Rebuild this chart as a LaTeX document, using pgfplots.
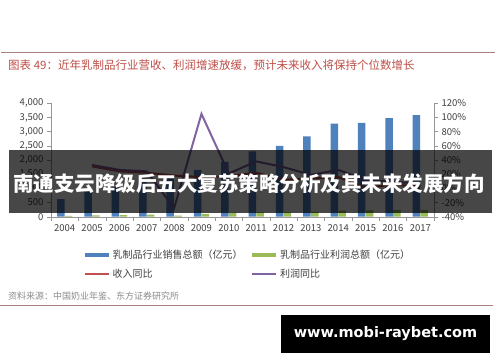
\documentclass[border=0pt]{standalone}
\usepackage{pgfplots}
\pgfplotsset{compat=1.18}
\usepackage{fontspec}
\setmainfont{Noto Sans CJK SC}
\newfontfamily\wmfont{DejaVu Sans}
\definecolor{barblue}{RGB}{79,129,189}
\definecolor{bargreen}{RGB}{155,187,89}
\definecolor{linered}{RGB}{192,80,77}
\definecolor{linepurple}{RGB}{128,100,162}
\definecolor{titlered}{RGB}{190,78,72}
\definecolor{rulecol}{RGB}{170,128,124}
\definecolor{axisgray}{RGB}{150,150,150}
\definecolor{ticktext}{RGB}{64,64,64}
\definecolor{srcgray}{RGB}{140,140,140}
\begin{document}
\begin{tikzpicture}
\useasboundingbox (0pt,0pt) rectangle (500pt,362pt);
\fill[white] (0pt,0pt) rectangle (500pt,362pt);
\draw[rulecol, line width=0.9pt] (1pt,309.3pt) -- (495pt,309.3pt);
\node[anchor=west, inner sep=0pt, font=\fontsize{11.5}{13}\selectfont, text=titlered] at (8pt,297pt) {图表 49：近年乳制品行业营收、利润增速放缓，预计未来收入将保持个位数增长};
\begin{axis}[
  at={(51pt,145.3pt)}, anchor=south west, scale only axis,
  width=383pt, height=113.4pt,
  xmin=-0.5, xmax=13.5, ymin=0, ymax=4000,
  axis x line*=bottom, axis y line*=left,
  axis line style={-, draw=axisgray},
  xtick={0,...,13},
  xticklabels={2004,2005,2006,2007,2008,2009,2010,2011,2012,2013,2014,2015,2016,2017},
  major x tick style={draw=none},
  minor xtick={-0.5,0.5,...,13.5},
  ytick={0,500,...,4000},
  tick align=outside, major tick length=4pt, minor tick length=4pt,
  tick style={draw=axisgray, thin},
  /pgf/number format/assume math mode=true,
  /pgf/number format/1000 sep={,},
  ticklabel style={font=\fontsize{9.5}{11}\selectfont, text=ticktext},
  legend columns=2,
  legend cell align=left,
  legend style={at={(0.0757,-0.255)}, anchor=north west, draw=none, fill=none,
    font=\fontsize{10}{12}\selectfont, text=ticktext, row sep=5pt,
    /tikz/every even column/.append style={column sep=6pt}},
  legend image code/.code={\draw[#1] (0pt,0pt) -- (24pt,0pt);},
]
\addlegendimage{line width=3.5pt, barblue}
\addlegendentry{乳制品行业销售总额（亿元）}
\addlegendimage{line width=3.5pt, bargreen}
\addlegendentry{乳制品行业利润总额（亿元）}
\addlegendimage{line width=2.5pt, linered}
\addlegendentry{收入同比}
\addlegendimage{line width=2.5pt, linepurple}
\addlegendentry{利润同比}
\addplot[ybar, bar width=7.5pt, bar shift=-3.9pt, fill=barblue, draw=none, forget plot] coordinates {
(0,620) (1,880) (2,1040) (3,1330) (4,1430) (5,1650) (6,1930) (7,2300) (8,2500) (9,2830) (10,3280) (11,3310) (12,3480) (13,3580)};
\addplot[ybar, bar width=7.5pt, bar shift=3.9pt, fill=bargreen, draw=none, forget plot] coordinates {
(0,30) (1,45) (2,55) (3,75) (4,40) (5,100) (6,140) (7,150) (8,150) (9,170) (10,210) (11,220) (12,245) (13,240)};
\end{axis}
\begin{axis}[
  at={(51pt,145.3pt)}, anchor=south west, scale only axis,
  width=383pt, height=113.4pt,
  xmin=-0.5, xmax=13.5, ymin=-40, ymax=120,
  axis y line*=right, axis x line=none,
  axis line style={-, draw=axisgray},
  ytick={-40,-20,...,120},
  yticklabel={\pgfmathprintnumber{\tick}\%},
  tick align=outside, major tick length=4pt,
  tick style={draw=axisgray, thin},
  /pgf/number format/assume math mode=true,
  ticklabel style={font=\fontsize{9.5}{11}\selectfont, text=ticktext},
]
\addplot[linered, line width=2pt] coordinates {
(1,31) (2,24) (3,22) (4,18) (5,16) (6,17) (7,22) (8,12) (9,14) (10,16) (11,1) (12,5) (13,3)};
\addplot[linepurple, line width=2pt] coordinates {
(1,33) (2,26) (3,24) (4,-28) (5,105) (6,21) (7,38) (8,30) (9,19) (10,26) (11,12) (12,9) (13,7)};
\end{axis}
\fill[black, opacity=0.72] (9pt,149.3pt) rectangle (492pt,212pt);
\node[text=white, inner sep=0pt, font=\fontsize{20.5}{24}\selectfont\bfseries] at (249pt,178pt) {南通支云降级后五大复苏策略分析及其未来发展方向};
\node[anchor=west, inner sep=0pt, font=\fontsize{9}{11}\selectfont, text=srcgray] at (8pt,66pt) {资料来源：中国奶业年鉴、东方证券研究所};
\draw[rulecol, line width=0.9pt] (0pt,57pt) -- (493pt,57pt);
\fill[black] (281pt,9.3pt) rectangle (490pt,47pt);
\node[text=white, inner sep=0pt, font=\wmfont\fontsize{14.5}{17}\selectfont\bfseries] at (385.5pt,28.2pt) {www.mobi-raybet.com};
\end{tikzpicture}
\end{document}
